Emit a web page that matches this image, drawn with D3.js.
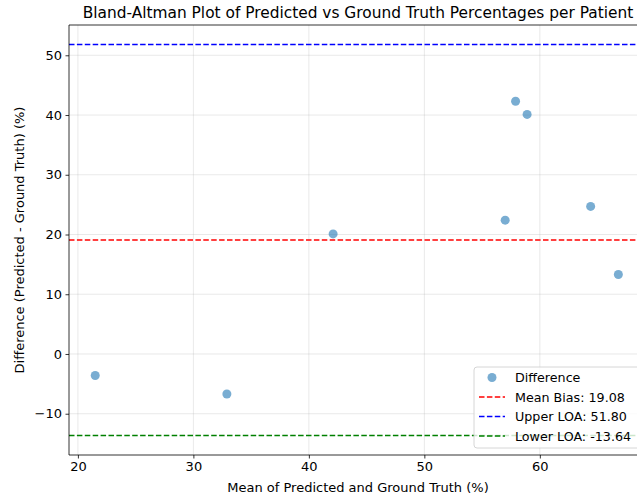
<!DOCTYPE html>
<html>
<head>
<meta charset="utf-8">
<script src="https://cdn.jsdelivr.net/npm/d3@7"></script>
<style>
  html, body { margin: 0; padding: 0; background: #fff; }
  svg { display: block; font-family: "DejaVu Sans", sans-serif; }
</style>
</head>
<body>
<svg id="chart" width="637" height="496"></svg>
<script>
// ---- data ----
const meanValues = [21.5, 32.9, 42.1, 57.0, 57.9, 58.9, 64.4, 66.8];
const diffValues = [-3.6, -6.7, 20.1, 22.4, 42.3, 40.1, 24.7, 13.3];
const meanBias = 19.08;
const upperLOA = 51.80;
const lowerLOA = -13.64;
const xTicks = [20, 30, 40, 50, 60];
const yTicks = [-10, 0, 10, 20, 30, 40, 50];
const titleText = "Bland-Altman Plot of Predicted vs Ground Truth Percentages per Patient";
const xLabel = "Mean of Predicted and Ground Truth (%)";
const yLabel = "Difference (Predicted - Ground Truth) (%)";
const legendLabels = ["Difference", "Mean Bias: 19.08", "Upper LOA: 51.80", "Lower LOA: -13.64"];

// ---- layout ----
const svg = d3.select("#chart");
const pL = 69, pR = 647, pT = 25, pB = 455;

const x = d3.scaleLinear().domain([19.23, 69.28]).range([pL, pR]);
const y = d3.scaleLinear().domain([-16.91, 55.07]).range([pB, pT]);

// grid
const grid = svg.append("g");
grid.selectAll(".gx").data(xTicks).join("line")
  .attr("x1", d => x(d)).attr("x2", d => x(d))
  .attr("y1", pT).attr("y2", pB)
  .attr("stroke", "#b0b0b0").attr("stroke-opacity", 0.35).attr("stroke-width", 0.8);
grid.selectAll(".gy").data(yTicks).join("line")
  .attr("x1", pL).attr("x2", pR)
  .attr("y1", d => y(d)).attr("y2", d => y(d))
  .attr("stroke", "#b0b0b0").attr("stroke-opacity", 0.35).attr("stroke-width", 0.8);

// points
svg.append("g").selectAll("circle").data(meanValues).join("circle")
  .attr("cx", d => x(d))
  .attr("cy", (d, i) => y(diffValues[i]))
  .attr("r", 4.5)
  .attr("fill", "#1f77b4").attr("fill-opacity", 0.6);

// reference lines
const refLines = [
  { v: meanBias, c: "#ff0000" },
  { v: upperLOA, c: "#0000ff" },
  { v: lowerLOA, c: "#008000" }
];
svg.append("g").selectAll("line").data(refLines).join("line")
  .attr("x1", pL).attr("x2", pR)
  .attr("y1", d => y(d.v)).attr("y2", d => y(d.v))
  .attr("stroke", d => d.c).attr("stroke-width", 1.5)
  .attr("stroke-dasharray", "5.5,2.4");

// axes
const xAxis = svg.append("g").attr("transform", `translate(0,${pB})`)
  .call(d3.axisBottom(x).tickValues(xTicks).tickSize(3.5).tickPadding(3.5).tickFormat(d3.format("d")));
const yAxis = svg.append("g").attr("transform", `translate(${pL},0)`)
  .call(d3.axisLeft(y).tickValues(yTicks).tickSize(3.5).tickPadding(3.5)
    .tickFormat(d => d < 0 ? "\u2212" + Math.abs(d) : d));
[xAxis, yAxis].forEach(a => {
  a.selectAll("text").attr("font-size", 13).attr("fill", "#000").attr("font-family", "DejaVu Sans, sans-serif");
  a.selectAll("line").attr("stroke", "#000").attr("stroke-width", 0.8);
  a.select(".domain").remove();
});
// spines
[[pL, pL, pT, pB], [pL, pR, pB, pB], [pL, pR, pT, pT], [pR, pR, pT, pB]].forEach(s => {
  svg.append("line").attr("x1", s[0]).attr("x2", s[1]).attr("y1", s[2]).attr("y2", s[3])
    .attr("stroke", "#000").attr("stroke-width", 0.8);
});

// title & labels
svg.append("text").attr("x", (pL + pR) / 2).attr("y", 18)
  .attr("text-anchor", "middle").attr("font-size", 15.4).text(titleText);
svg.append("text").attr("x", (pL + pR) / 2).attr("y", 492)
  .attr("text-anchor", "middle").attr("font-size", 13).text(xLabel);
svg.append("text").attr("transform", `translate(24,${(pT + pB) / 2}) rotate(-90)`)
  .attr("text-anchor", "middle").attr("font-size", 13).text(yLabel);

// legend
const lg = svg.append("g").attr("transform", "translate(474,367)");
lg.append("rect").attr("x", 0).attr("y", 0).attr("width", 168).attr("height", 81)
  .attr("rx", 3).attr("fill", "#fff").attr("fill-opacity", 0.8)
  .attr("stroke", "#cccccc").attr("stroke-width", 0.8);
const rowY = [10.5, 30, 49.5, 69];
lg.append("circle").attr("cx", 18).attr("cy", rowY[0]).attr("r", 4.5)
  .attr("fill", "#1f77b4").attr("fill-opacity", 0.6);
refLines.forEach((d, i) => {
  lg.append("line").attr("x1", 5).attr("x2", 31)
    .attr("y1", rowY[i + 1]).attr("y2", rowY[i + 1])
    .attr("stroke", d.c).attr("stroke-width", 1.5).attr("stroke-dasharray", "5.5,2.4");
});
lg.selectAll("text").data(legendLabels).join("text")
  .attr("x", 41).attr("y", (d, i) => rowY[i] + 4.7)
  .attr("font-size", 12.7).text(d => d);
</script>
</body>
</html>
